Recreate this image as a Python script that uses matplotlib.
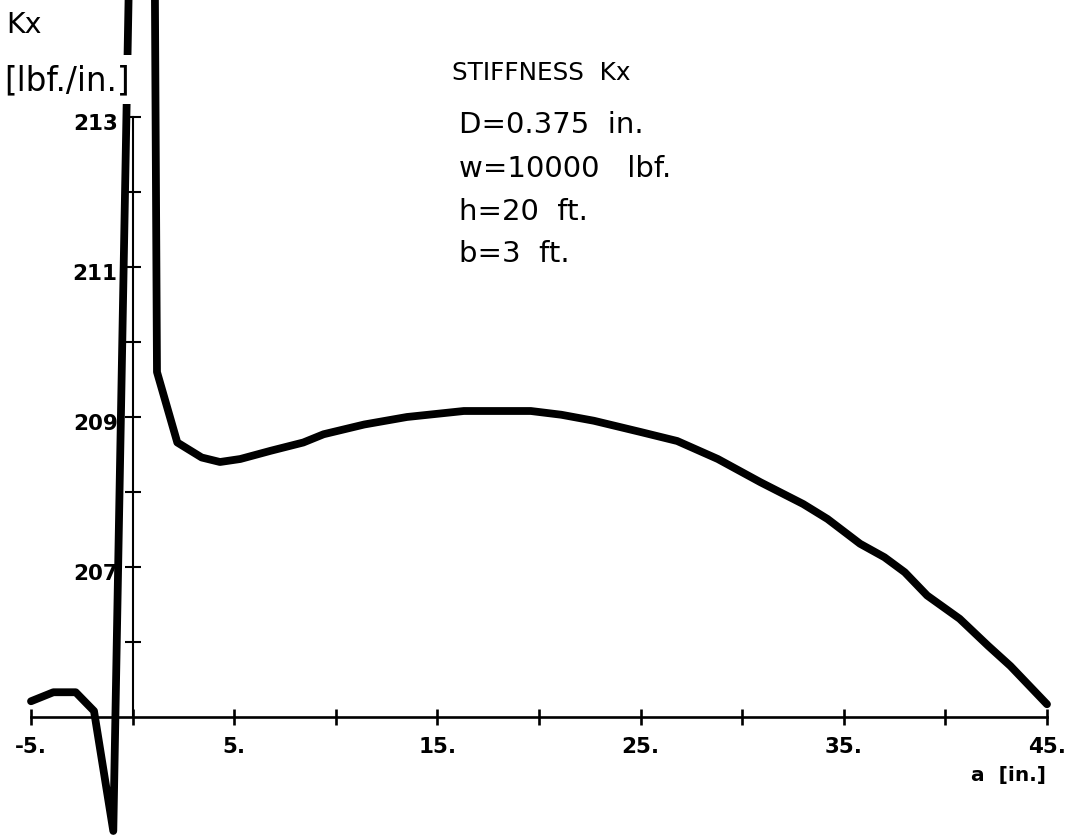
import matplotlib
matplotlib.use("Agg")
import matplotlib.pyplot as plt
from matplotlib.transforms import ScaledTranslation

# ---- data ----
a_in = [-5, -3.9, -2.8, -1.9, -0.95, 0.8, 1.2, 2.2, 3.4, 4.3, 5.3, 6.8, 8.4, 9.4,
        11.4, 13.5, 16.3, 19.6, 21.1, 22.7, 25.0, 26.8, 28.8, 30.9, 33.0, 34.2,
        35.8, 37.0, 38.0, 39.1, 40.7, 42.1, 43.2, 45.0]
kx = [205.21, 205.33, 205.33, 205.08, 203.48, 229.3, 209.6, 208.66, 208.46,
      208.40, 208.44, 208.55, 208.66, 208.77, 208.90, 209.00, 209.08, 209.08,
      209.03, 208.95, 208.80, 208.68, 208.44, 208.13, 207.84, 207.64, 207.31,
      207.13, 206.93, 206.62, 206.31, 205.95, 205.68, 205.17]

x_major = [-5, 5, 15, 25, 35, 45]
x_major_labels = ["-5.", "5.", "15.", "25.", "35.", "45."]
x_minor = [0, 10, 20, 30, 40]
y_major = [207, 209, 211, 213]
y_major_labels = ["207", "209", "211", "213"]
y_minor = [206, 208, 210, 212]

title_text = "STIFFNESS  Kx"
param_lines = ["D=0.375  in.", "w=10000   lbf.", "h=20  ft.", "b=3  ft."]
ylabel_top = "Kx"
ylabel_unit = "[lbf./in.]"
xlabel_text = "a  [in.]"

# ---- layout (pixel geometry of the reference) ----
W, H = 1067, 837
fig = plt.figure(figsize=(W / 100, H / 100), dpi=100)
ax = fig.add_axes([0, 0, 1, 1])
ax.set_facecolor("white")

xpx0, xpx1 = 31.0, 1047.0       # pixel of x=-5 and x=45
ypx205, ypx213 = 718.0, 118.0   # pixel of y=205 and y=213
xs = (xpx1 - xpx0) / 50.0
ys = (ypx205 - ypx213) / 8.0
ax.set_xlim(-5 - xpx0 / xs, -5 + (W - xpx0) / xs)
ax.set_ylim(205 - (H - ypx205) / ys, 205 + ypx205 / ys)

ax.plot(a_in, kx, color="black", lw=5.6, solid_joinstyle="round",
        solid_capstyle="round", zorder=3)

for s in ("top", "right"):
    ax.spines[s].set_visible(False)
ax.spines["bottom"].set_position(("data", 205))
ax.spines["bottom"].set_bounds(-5, 45)
ax.spines["left"].set_position(("data", 0))
ax.spines["left"].set_bounds(205, 213)
ax.spines["bottom"].set_linewidth(1.9)
ax.spines["left"].set_linewidth(1.5)

ax.set_xticks(x_major)
ax.set_xticklabels(x_major_labels)
ax.set_xticks(x_minor, minor=True)
ax.set_yticks(y_major)
ax.set_yticklabels(y_major_labels)
ax.set_yticks(y_minor, minor=True)

ax.tick_params(axis="x", which="both", direction="inout", length=11.5,
               width=1.9, pad=8)
ax.tick_params(axis="y", which="both", direction="inout", length=11.5,
               width=1.5, pad=5)
for lab in ax.get_xticklabels() + ax.get_yticklabels():
    lab.set_fontweight("bold")
    lab.set_fontsize(15.5)
    lab.set_family("DejaVu Sans")
shift = ScaledTranslation(0, -4 / 100, fig.dpi_scale_trans)
for lab in ax.get_yticklabels():
    lab.set_transform(lab.get_transform() + shift)


def fx(px):
    return px / W


def fy(py):
    return 1 - py / H


fig.text(fx(6), fy(33), ylabel_top, fontsize=20.5, ha="left", va="baseline")
fig.text(fx(4), fy(90), ylabel_unit, fontsize=23.5, ha="left", va="baseline",
         bbox=dict(facecolor="white", edgecolor="none", pad=6), zorder=5)

fig.text(fx(452), fy(80), title_text, fontsize=17.8, ha="left", va="baseline")
baselines = [133, 177, 220, 262]
for t, b in zip(param_lines, baselines):
    fig.text(fx(459), fy(b), t, fontsize=21, ha="left", va="baseline")

fig.text(fx(1046), fy(781), xlabel_text, fontsize=14.5, fontweight="bold",
         ha="right", va="baseline")

fig.savefig("out.png", dpi=100, facecolor="white")
